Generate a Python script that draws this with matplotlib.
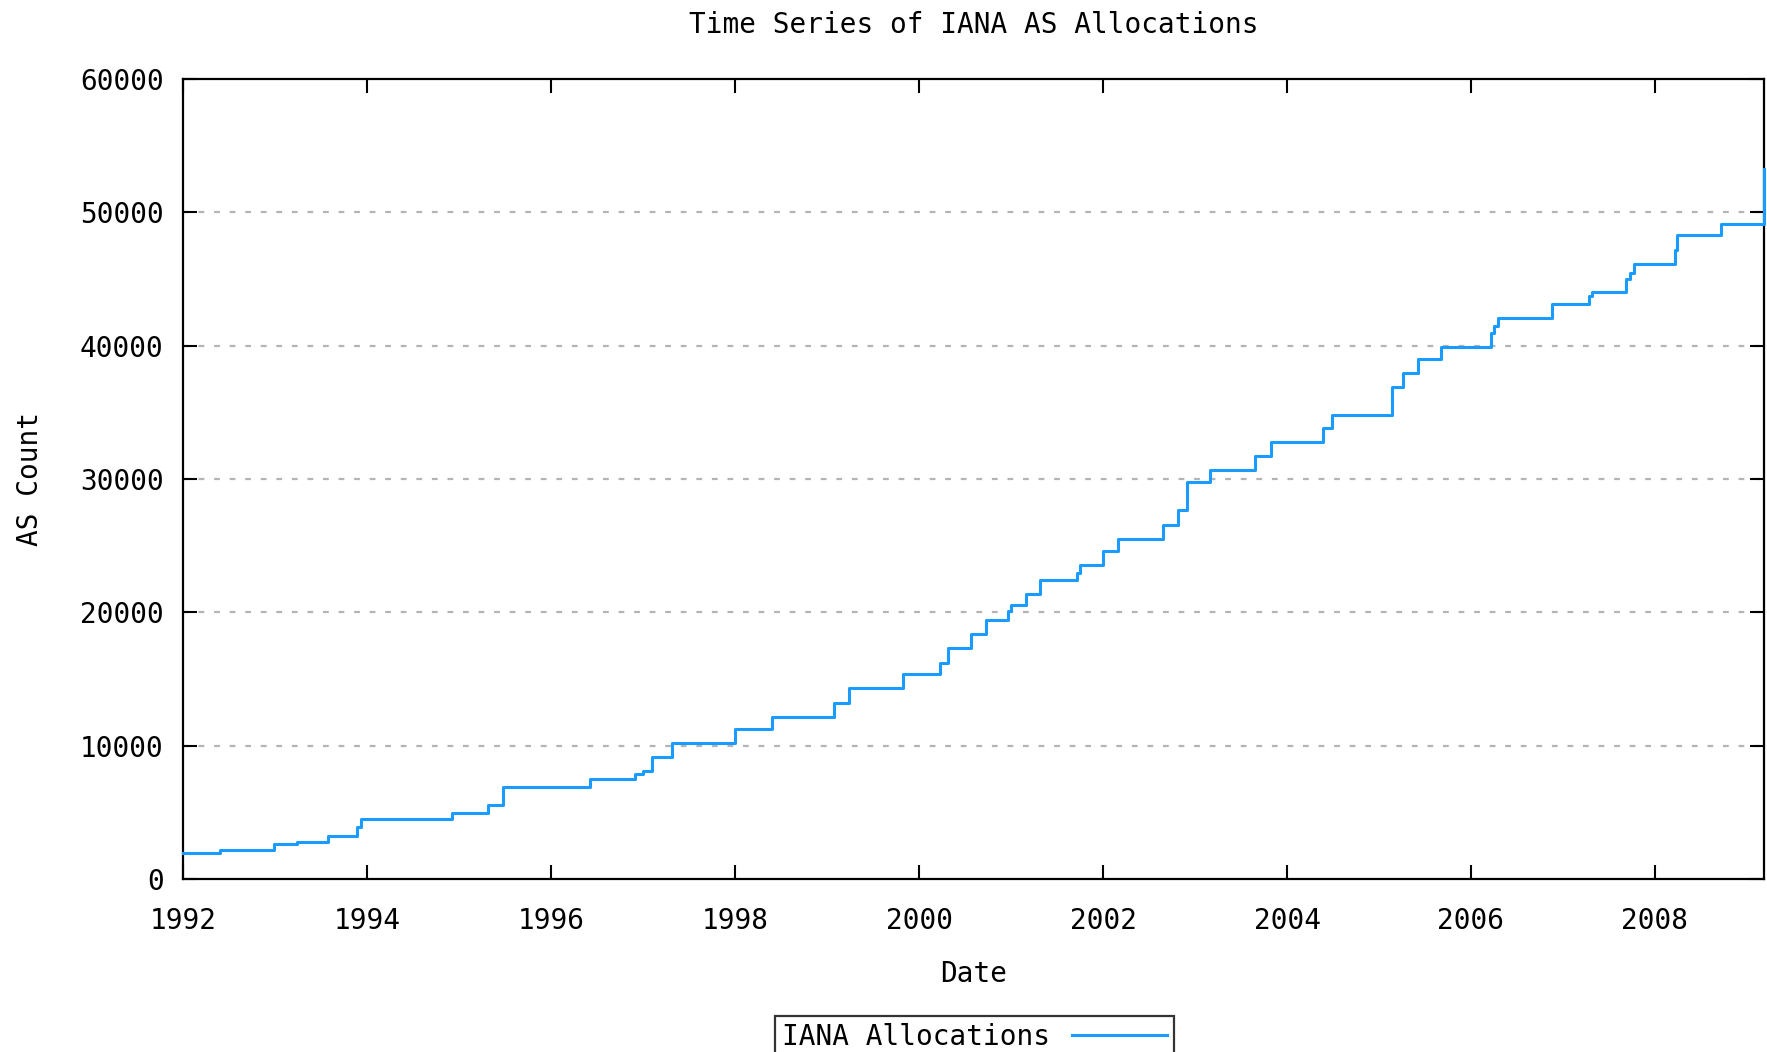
import matplotlib.pyplot as plt
import numpy as np
plt.switch_backend('Agg')

# step start dates (decimal years) and the cumulative AS count from that date on
years = [1992.00, 1992.40, 1992.99, 1993.24, 1993.58, 1993.89, 1993.93, 1994.92,
         1995.32, 1995.48, 1996.42, 1996.91, 1997.00, 1997.10, 1997.31, 1998.00,
         1998.40, 1999.08, 1999.24, 1999.83, 2000.23, 2000.32, 2000.57, 2000.73,
         2000.97, 2001.00, 2001.16, 2001.32, 2001.72, 2001.75, 2002.00, 2002.16,
         2002.65, 2002.81, 2002.91, 2003.16, 2003.65, 2003.83, 2004.39, 2004.49,
         2005.14, 2005.26, 2005.42, 2005.67, 2006.22, 2006.25, 2006.29, 2006.88,
         2007.28, 2007.31, 2007.69, 2007.73, 2007.77, 2008.22, 2008.24, 2008.72,
         2009.18]
as_count = [1960, 2160, 2600, 2800, 3220, 3900, 4460, 4910,
            5580, 6870, 7490, 7850, 8100, 9130, 10210, 11280,
            12160, 13210, 14290, 15370, 16220, 17300, 18360, 19440,
            20070, 20520, 21400, 22450, 22950, 23550, 24620, 25510,
            26580, 27660, 29800, 30680, 31730, 32810, 33860, 34770,
            36900, 37950, 39030, 39910, 40970, 41470, 42040, 43120,
            43720, 44000, 45030, 45480, 46130, 47160, 48270, 49140,
            53260]

x_ticks = [1992, 1994, 1996, 1998, 2000, 2002, 2004, 2006, 2008]
y_ticks = [0, 10000, 20000, 30000, 40000, 50000, 60000]

plt.rcParams['font.family'] = 'DejaVu Sans Mono'

fig = plt.figure(figsize=(17.67, 10.52), dpi=100)
ax = fig.add_axes([0.1036, 0.1645, 0.8947, 0.7604])

ax.step(years, as_count, where='post', color='#1a9bff', lw=2.2,
        label='IANA Allocations', clip_on=False, zorder=3)

ax.set_xlim(1992, years[-1] + 0.005)
ax.set_ylim(0, 60000)
ax.set_xticks(x_ticks)
ax.set_xticklabels([str(t) for t in x_ticks])
ax.set_yticks(y_ticks)
ax.set_yticklabels([str(t) for t in y_ticks])

for t in y_ticks[1:-1]:
    ax.axhline(t, color='#b4b4b4', lw=1.6, linestyle=(0, (2.6, 4.4)), zorder=0)

ax.tick_params(direction='in', length=10, width=1.5, top=True, right=True,
               labelsize=20, colors='black')
ax.tick_params(axis='x', pad=20)
ax.tick_params(axis='y', pad=14)
for s in ax.spines.values():
    s.set_linewidth(1.6)

ax.set_title('Time Series of IANA AS Allocations', fontsize=20, pad=33)
ax.set_xlabel('Date', fontsize=20, labelpad=18)
ax.set_ylabel('AS Count', fontsize=20, labelpad=26)

leg = fig.legend(loc='upper center', bbox_to_anchor=(0.5515, 1 - 1016 / 1052),
                 fontsize=20, markerfirst=False, fancybox=False, frameon=True,
                 handlelength=3.4, borderpad=0.25, borderaxespad=0,
                 handletextpad=0.8)
leg.get_frame().set_edgecolor('black')
leg.get_frame().set_linewidth(1.6)

plt.savefig('out.png', dpi=100)
